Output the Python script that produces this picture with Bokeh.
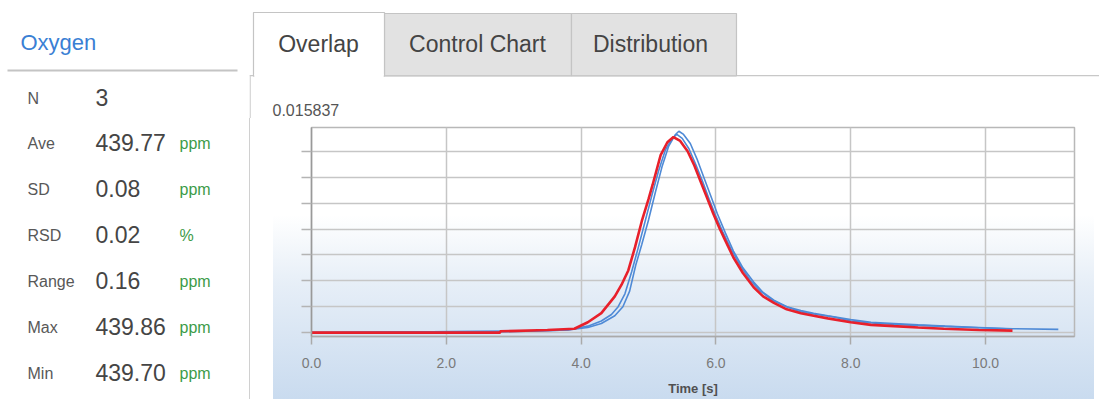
from bokeh.plotting import figure
from bokeh.layouts import row, column
from bokeh.models import Range1d, FixedTicker, PrintfTickFormatter
from bokeh.core.properties import value
from bokeh.embed import file_html
from bokeh.resources import INLINE

# ---------------- data ----------------
element_name = "Oxygen"
stat_names = ["N", "Ave", "SD", "RSD", "Range", "Max", "Min"]
stat_values = ["3", "439.77", "0.08", "0.02", "0.16", "439.86", "439.70"]
stat_units = ["", "ppm", "ppm", "%", "ppm", "ppm", "ppm"]
tab_names = ["Overlap", "Control Chart", "Distribution"]

y_max_text = "0.015837"
y_top = 0.015837
x_ticks = [0, 2, 4, 6, 8, 10]
y_ticks = [0.0, 0.002, 0.004, 0.006, 0.008, 0.010, 0.012, 0.014]
x_label = "Time [s]"

red_t = [0.0, 2.8, 2.8, 3.5, 3.9, 4.1, 4.3, 4.5, 4.6, 4.7, 4.8, 4.9, 5.0, 5.06, 5.18,
         5.28, 5.37, 5.47, 5.58, 5.68, 5.77, 5.87, 5.96, 6.05, 6.14, 6.26, 6.4, 6.56,
         6.7, 6.86, 7.05, 7.26, 7.45, 7.66, 8.0, 8.3, 8.64, 9.0, 9.38, 9.9, 10.4]
red_v = [0.0, 0.0, 0.0001, 0.0002, 0.0003, 0.0008, 0.0015, 0.0028, 0.0037, 0.0048,
         0.0066, 0.0086, 0.0103, 0.0114, 0.0137, 0.0147, 0.0151, 0.0148, 0.0140,
         0.0129, 0.0117, 0.0104, 0.0092, 0.0081, 0.0071, 0.0058, 0.0046, 0.0035,
         0.0028, 0.0023, 0.0018, 0.0015, 0.0013, 0.0011, 0.0008, 0.0006, 0.0005,
         0.0004, 0.0003, 0.0002, 0.00015]

blue1_t = [0.0, 3.2, 3.8, 4.1, 4.3, 4.5, 4.62, 4.72, 4.81, 4.9, 5.0, 5.1, 5.2, 5.3,
           5.4, 5.45, 5.52, 5.62, 5.72, 5.82, 5.92, 6.02, 6.14, 6.26, 6.4, 6.56, 6.7,
           6.86, 7.05, 7.26, 7.45, 7.66, 8.0, 8.3, 8.64, 9.0, 9.4, 9.9, 10.4, 11.08]
blue1_v = [0.0, 0.0001, 0.0002, 0.0004, 0.0007, 0.0013, 0.0020, 0.0032, 0.0052,
           0.0068, 0.0087, 0.0108, 0.0128, 0.0144, 0.0153, 0.01555, 0.0153, 0.0146,
           0.0134, 0.0120, 0.0106, 0.0092, 0.0077, 0.0063, 0.0050, 0.0039, 0.0031,
           0.0025, 0.0020, 0.0017, 0.0015, 0.0013, 0.0010, 0.0008, 0.0007, 0.0006,
           0.0005, 0.0004, 0.0003, 0.00025]

blue2_t = [0.0, 3.2, 3.8, 4.1, 4.3, 4.45, 4.55, 4.65, 4.75, 4.85, 4.95, 5.05, 5.15,
           5.25, 5.35, 5.42, 5.5, 5.6, 5.7, 5.8, 5.9, 6.0, 6.1, 6.22, 6.36, 6.5, 6.66,
           6.84, 7.05, 7.26, 7.5, 7.75, 8.0, 8.4, 8.8, 9.3, 9.8, 10.3]
blue2_v = [0.0, 0.0001, 0.0002, 0.0005, 0.0009, 0.0014, 0.0020, 0.0030, 0.0047,
           0.0066, 0.0086, 0.0106, 0.0125, 0.0141, 0.0150, 0.0153, 0.0150, 0.0142,
           0.0130, 0.0117, 0.0103, 0.0090, 0.0078, 0.0065, 0.0052, 0.0041, 0.0032,
           0.0025, 0.0020, 0.0016, 0.0014, 0.0012, 0.0009, 0.0007, 0.0006, 0.0005,
           0.0004, 0.0003]

# ---------------- geometry (page pixels) ----------------
W, H = 1099, 399
LEFT_W = 249          # left stats panel width
TABS_H = 118          # height of the tab strip figure
FL, FR, FT, FB = 311, 1074, 127, 336   # plot frame edges on the page

SANS = value("Liberation Sans")


def pixel_fig(width, height, x0, y0):
    f = figure(width=width, height=height,
               x_range=Range1d(x0, x0 + width), y_range=Range1d(y0 + height, y0),
               output_backend="svg", toolbar_location=None, min_border=0,
               x_axis_location=None, y_axis_location=None)
    f.xgrid.visible = False
    f.ygrid.visible = False
    f.outline_line_color = None
    f.background_fill_color = "white"
    f.border_fill_color = "white"
    return f


# ---------------- left stats panel ----------------
pl = pixel_fig(LEFT_W, H, 0, 0)
pl.text(x=[20], y=[42], text=[element_name], text_font=SANS, text_font_size=value("22px"),
        text_color="#3a7fd4", text_baseline="middle")
pl.quad(left=[7], right=[237], top=[69], bottom=[71], fill_color="#c4c4c4", line_color=None)
row_y = [97, 142, 188, 234, 280, 326, 372]
pl.text(x=[27] * len(stat_names), y=[v + 1 for v in row_y], text=stat_names, text_font=SANS,
        text_font_size=value("16px"), text_color="#585858", text_baseline="middle")
pl.text(x=[95] * len(stat_values), y=row_y, text=stat_values, text_font=SANS,
        text_font_size=value("23px"), text_color="#454545", text_baseline="middle")
u_y = [v + 1 for v, u in zip(row_y, stat_units) if u]
u_t = [u for u in stat_units if u]
pl.text(x=[179] * len(u_t), y=u_y, text=u_t, text_font=SANS,
        text_font_size=value("16px"), text_color="#3c9b48", text_baseline="middle")

# ---------------- tabs strip ----------------
pt = pixel_fig(W - LEFT_W, TABS_H, LEFT_W, 0)
pt.quad(left=[249], right=[W], top=[74.5], bottom=[75.8], fill_color="#c8c8c8", line_color=None)
pt.quad(left=[249], right=[250.3], top=[75], bottom=[TABS_H], fill_color="#d0d0d0", line_color=None)
tab_edges = [253, 384, 571, 736]
tab_text_x = [318, 477, 650]
pt.quad(left=tab_edges[1:3], right=tab_edges[2:4], top=[13, 13], bottom=[75.3, 75.3],
        fill_color="#e2e2e2", line_color="#c4c4c4", line_width=1.2)
pt.quad(left=[tab_edges[0]], right=[tab_edges[1]], top=[12], bottom=[75.6],
        fill_color="white", line_color="#c4c4c4", line_width=1.2)
pt.quad(left=[tab_edges[0] + 0.8], right=[tab_edges[1] - 0.8], top=[73.5], bottom=[77],
        fill_color="white", line_color=None)
pt.text(x=tab_text_x, y=[43] * 3, text=tab_names, text_font=SANS, text_font_size=value("23px"),
        text_color="#444444", text_baseline="middle", text_align="center")
pt.text(x=[272], y=[109], text=[y_max_text], text_font=SANS, text_font_size=value("16px"),
        text_color="#555555", text_baseline="middle")

# ---------------- chart ----------------
CW, CH = W - LEFT_W, H - TABS_H
gx0, gx1 = 273 - LEFT_W, 1094 - LEFT_W
g_white = 215 - TABS_H
bg_css = (
    "linear-gradient(#d0d0d0, #d0d0d0), "
    f"linear-gradient(to bottom, #ffffff 0px, #ffffff {g_white}px, #e6eef7 {g_white + 70}px, #c9dbef {CH}px)"
)
p = figure(width=CW, height=CH, x_range=Range1d(0, 11.32), y_range=Range1d(-0.0003, y_top),
           output_backend="svg", toolbar_location=None,
           min_border_left=FL - LEFT_W, min_border_right=W - FR,
           min_border_top=FT - TABS_H, min_border_bottom=H - FB,
           styles={
               "background-color": "#ffffff",
               "background-image": bg_css,
               "background-repeat": "no-repeat, no-repeat",
               "background-size": f"1.3px 100%, {gx1 - gx0}px 100%",
               "background-position": f"0px 0px, {gx0}px 0px",
           })
p.background_fill_color = None
p.border_fill_color = None
p.outline_line_color = "#b8b8b8"
p.outline_line_width = 1.5

p.line(blue1_t, blue1_v, line_color="#4f8ad6", line_width=1.6)
p.line(blue2_t, blue2_v, line_color="#4f8ad6", line_width=1.6)
p.line(red_t, red_v, line_color="#e8202b", line_width=2.6)

xa = p.xaxis[0]
xa.ticker = FixedTicker(ticks=x_ticks)
xa.formatter = PrintfTickFormatter(format="%.1f")
xa.major_tick_out = 8
xa.major_tick_in = 0
xa.minor_tick_line_color = None
xa.major_tick_line_color = "#aaaaaa"
xa.major_tick_line_width = 1.5
xa.axis_line_color = "#aaaaaa"
xa.axis_line_width = 1.5
xa.major_label_standoff = 13
xa.major_label_text_font = "Liberation Sans"
xa.major_label_text_font_size = "14px"
xa.major_label_text_color = "#7a7a7a"
xa.axis_label = x_label
xa.axis_label_standoff = 10
xa.axis_label_text_font = "Liberation Sans"
xa.axis_label_text_font_size = "13px"
xa.axis_label_text_font_style = "bold"
xa.axis_label_text_color = "#505050"

ya = p.yaxis[0]
ya.ticker = FixedTicker(ticks=y_ticks)
ya.major_label_overrides = {t: "" for t in y_ticks}
ya.major_tick_out = 10
ya.major_tick_in = 0
ya.minor_tick_line_color = None
ya.major_tick_line_color = "#b4b4b4"
ya.major_tick_line_width = 1.5
ya.axis_line_color = "#999999"
ya.axis_line_width = 1.5

p.xgrid.ticker = FixedTicker(ticks=x_ticks)
p.ygrid.ticker = FixedTicker(ticks=y_ticks)
for g in (p.xgrid[0], p.ygrid[0]):
    g.grid_line_color = "#c6c6c6"
    g.grid_line_width = 1.5

layout = row(pl, column(row(pt, spacing=0), row(p, spacing=0), spacing=0), spacing=0)
open("out.html", "w").write(file_html(layout, INLINE))
